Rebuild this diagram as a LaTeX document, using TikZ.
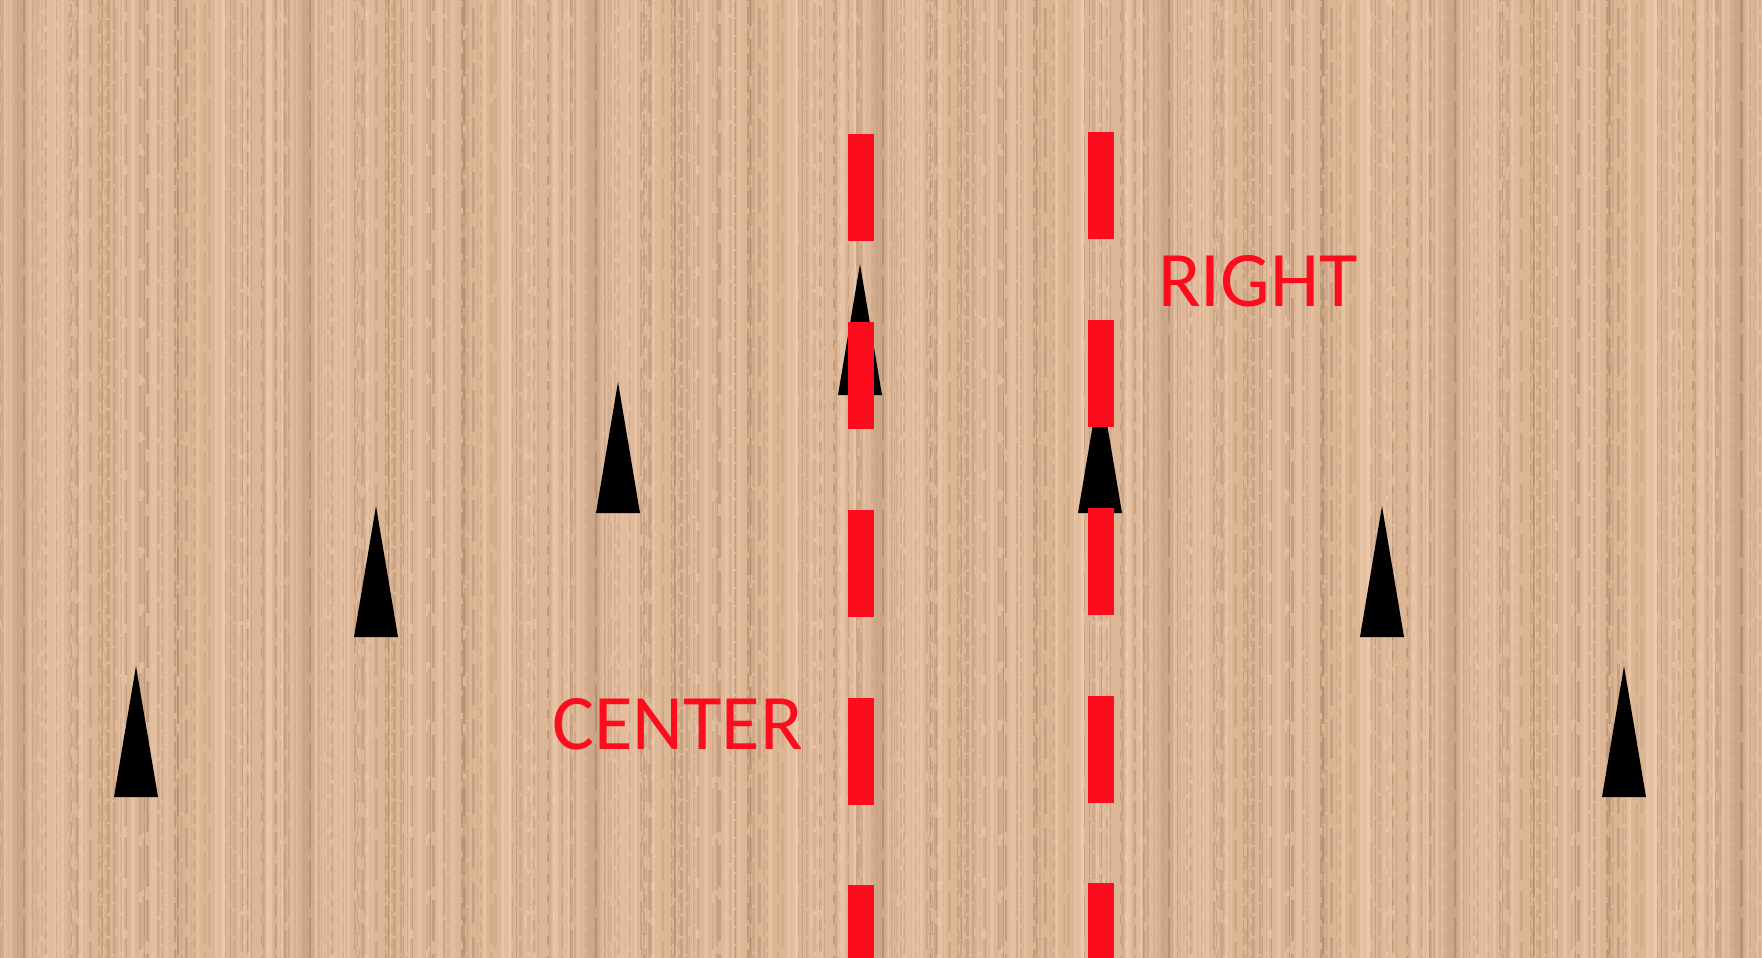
\documentclass[tikz,border=0pt]{standalone}
\usepackage{fontspec}
\setmainfont{Carlito}
\definecolor{wood}{RGB}{221,182,150}
\definecolor{grainD}{RGB}{140,100,72}
\definecolor{grainL}{RGB}{245,212,184}
\definecolor{lanered}{RGB}{252,13,30}
\tikzset{
  arrowmark/.style={fill=black},
  dashbar/.style={fill=lanered},
  lbl/.style={text=lanered, font=\fontsize{78.7}{90}\selectfont, inner sep=0pt, anchor=base},
}
\begin{document}
\begin{tikzpicture}[x=1pt,y=-1pt]
\useasboundingbox (0,0) rectangle (1762,958);
\fill[wood] (0,0) rectangle (1762,958);
\begin{scope}
  \clip (0,0) rectangle (1762,958);
  % wood grain, tiled like the reference texture
  \foreach \t in {-1,0,...,6}{
    \pgfmathsetseed{4242}
    \foreach \k in {1,...,75}{
      \pgfmathsetmacro{\gx}{22+\t*286.3+rnd*286.3}
      \pgfmathsetmacro{\gw}{0.8+rnd*2.4}
      \pgfmathsetmacro{\go}{0.08+rnd*0.22}
      \pgfmathsetmacro{\don}{8+rnd*45}
      \pgfmathsetmacro{\doff}{2+rnd*12}
      \pgfmathsetmacro{\dph}{rnd*50}
      \draw[grainD, line width=\gw pt, opacity=\go,
        dash pattern=on \don pt off \doff pt, dash phase=\dph pt] (\gx,0) -- (\gx,958);
    }
    \foreach \k in {1,...,45}{
      \pgfmathsetmacro{\gx}{22+\t*286.3+rnd*286.3}
      \pgfmathsetmacro{\gw}{1.5+rnd*4}
      \pgfmathsetmacro{\go}{0.15+rnd*0.3}
      \draw[grainL, line width=\gw pt, opacity=\go] (\gx,0) -- (\gx,958);
    }
    % broad darker band of each tile
    \pgfmathsetmacro{\bx}{22+\t*286.3}
    \fill[grainD, opacity=0.07] (\bx-20,0) rectangle (\bx+14,958);
    \fill[grainD, opacity=0.08] (\bx-11,0) rectangle (\bx+7,958);
    \fill[grainD, opacity=0.08] (\bx-5,0) rectangle (\bx+3,958);
    \fill[grainL, opacity=0.25] (\bx+16,0) rectangle (\bx+30,958);
  }
\end{scope}
% arrows (targeting marks)
\foreach \cx/\ay/\by in {136/666/797, 376/506/637, 618/382/513, 860/264/395,
                         1100/382/513, 1382/506/637, 1624/666/797}{
  \fill[arrowmark] (\cx-22,\by) -- (\cx,\ay) -- (\cx+22,\by) -- cycle;
}
% red dashed lines
\foreach \y in {134,322,510,697.7,885.3}{
  \fill[dashbar] (847.5,\y) rectangle (874,\y+107);
}
\foreach \y in {132,320,508,695.7,883.3}{
  \fill[dashbar] (1087.5,\y) rectangle (1114,\y+107);
}
% labels
\node[lbl] (center) at (677.5,749.3) {CENTER};
\node[lbl] (right) at (1258,306.7) {RIGHT};
\end{tikzpicture}
\end{document}
